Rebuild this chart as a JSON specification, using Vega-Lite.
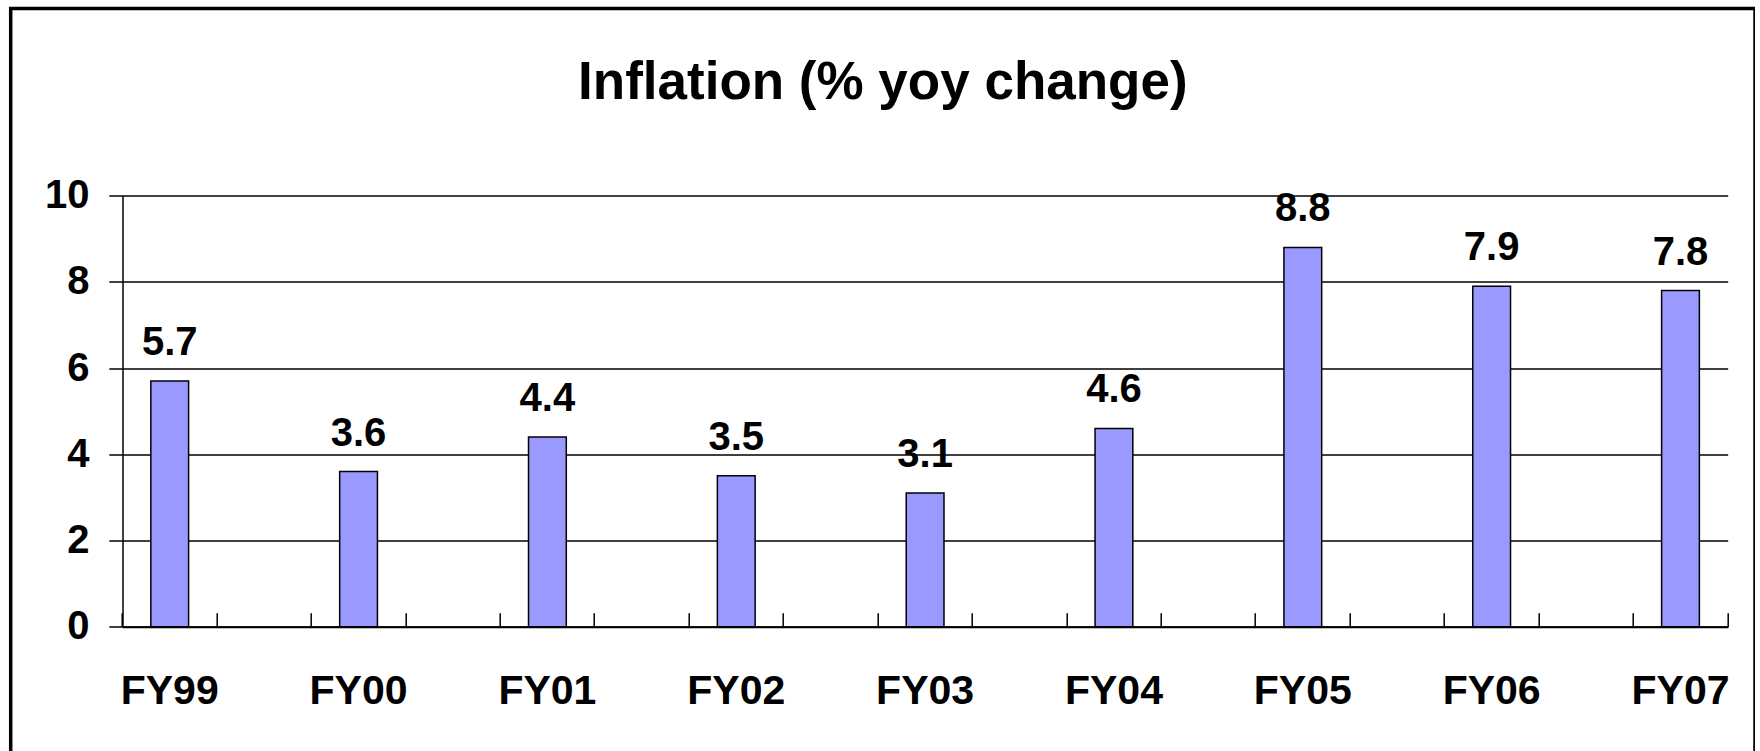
{
  "$schema": "https://vega.github.io/schema/vega-lite/v6.json",
  "autosize": {"type": "none"},
  "padding": {"left": 10.7, "top": 8.5, "right": 0, "bottom": 0},
  "width": 1744.3,
  "height": 742.5,
  "background": "white",
  "view": {"stroke": "black", "strokeWidth": 3.5, "strokeDash": [2486.8, 1744.3, 800], "strokeCap": "square", "fill": "white"},
  "title": {"text": "Inflation (% yoy change)", "font": "Liberation Sans", "fontSize": 53, "fontWeight": "bold", "color": "black", "anchor": "middle", "baseline": "alphabetic", "offset": -143},
  "data": {"values": [
    {"year": "FY99", "value": 5.7},
    {"year": "FY00", "value": 3.6},
    {"year": "FY01", "value": 4.4},
    {"year": "FY02", "value": 3.5},
    {"year": "FY03", "value": 3.1},
    {"year": "FY04", "value": 4.6},
    {"year": "FY05", "value": 8.8},
    {"year": "FY06", "value": 7.9},
    {"year": "FY07", "value": 7.8}
  ]},
  "layer": [
    {
      "mark": {"type": "bar", "fill": "#9999FF", "stroke": "black", "strokeWidth": 1.5},
      "encoding": {
        "x": {"field": "year", "type": "nominal", "sort": null,
          "scale": {"range": [111.8, 1717], "paddingInner": 0.8, "paddingOuter": 0.15},
          "axis": {"orient": "bottom", "offset": -124.3, "bandPosition": -0.75, "labelOffset": 0, "title": null,
            "domain": true, "domainColor": "black", "domainWidth": 2,
            "ticks": true, "tickSize": -14, "tickColor": "black", "tickWidth": 1.5,
            "labelFont": "Liberation Sans", "labelFontSize": 41, "labelFontWeight": "bold", "labelColor": "black",
            "labelAngle": 0, "labelBaseline": "alphabetic", "labelPadding": 90.6, "labelOverlap": false, "labelBound": false, "grid": false}},
        "y": {"field": "value", "type": "quantitative",
          "scale": {"domain": [0, 10], "range": [618.2, 187.2], "nice": false, "zero": true},
          "axis": {"orient": "left", "offset": -111.8, "values": [0, 2, 4, 6, 8, 10], "format": "d", "title": null,
            "domain": true, "domainColor": "black", "domainWidth": 1.5,
            "ticks": true, "tickSize": 13.7, "tickColor": "black", "tickWidth": 1.5,
            "grid": true, "gridColor": "black", "gridWidth": 1.5, "gridOpacity": 1,
            "labelFont": "Liberation Sans", "labelFontSize": 40, "labelFontWeight": "bold", "labelColor": "black",
            "labelPadding": 19.7, "labelOverlap": false, "labelBound": false}}
      }
    },
    {
      "mark": {"type": "text", "font": "Liberation Sans", "fontSize": 40, "fontWeight": "bold", "color": "black", "baseline": "alphabetic", "align": "center", "dy": -26},
      "encoding": {
        "x": {"field": "year", "type": "nominal", "sort": null,
          "axis": {"orient": "bottom", "offset": -124.3, "bandPosition": 1.75, "title": null,
            "domain": false, "labels": false, "ticks": true, "tickSize": -14, "tickColor": "black", "tickWidth": 1.5, "grid": false}},
        "y": {"field": "value", "type": "quantitative"},
        "text": {"field": "value", "type": "quantitative", "format": ".1f"}
      }
    }
  ],
  "resolve": {"axis": {"x": "independent"}}
}
